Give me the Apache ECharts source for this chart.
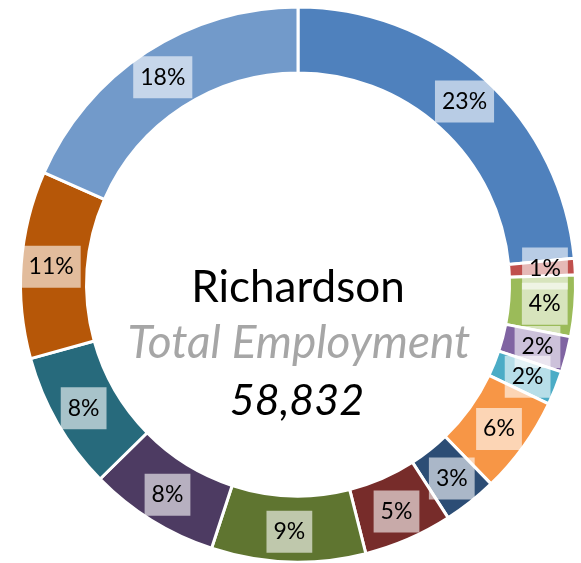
<!DOCTYPE html>
<html lang="en">
<head>
    <meta charset="utf-8">
    <title>Richardson Total Employment</title>
    <style>
        * {
  margin: 0;
  padding: 0;
}
#chart-container {
  position: relative;
  width: 581px;
  height: 563px;
  overflow: hidden;
  background: #fff;
}
    </style>
</head>
<body>
<div id="chart-container"></div>
<script src="https://fastly.jsdelivr.net/npm/echarts@6/dist/echarts.min.js"></script>
<script>
// sectors, clockwise from 12 o'clock
let sectors = ['S1', 'S2', 'S3', 'S4', 'S5', 'S6', 'S7', 'S8', 'S9', 'S10', 'S11', 'S12', 'S13'];
let jobs = [13820, 571, 2094, 1224, 1159, 3347, 1847, 3042, 5277, 4471, 4742, 6413, 10825];
let colors = ['#4F81BD', '#C0504D', '#9BBB59', '#8064A2', '#4BACC6', '#F79646', '#2C4D75',
              '#772C2A', '#5F7530', '#4D3B62', '#276A7C', '#B65708', '#729ACA'];
let cityName = 'Richardson';
let subTitle = 'Total Employment';
let totalJobs = 58832;

let total = jobs.reduce(function (a, b) { return a + b; }, 0);

var dom = document.getElementById('chart-container');
var myChart = echarts.init(dom, null, {
  renderer: 'canvas',
  useDirtyRect: false
});

var option = {
  animation: false,
  color: colors,
  graphic: [
    {
      type: 'text',
      x: 298,
      y: 266,
      style: {
        text: cityName,
        font: '44px Lato',
        fill: '#000',
        textAlign: 'center',
        textVerticalAlign: 'top'
      }
    },
    {
      type: 'text',
      x: 299,
      y: 320,
      style: {
        text: subTitle,
        font: 'italic 46px Lato',
        fill: '#A6A6A6',
        textAlign: 'center',
        textVerticalAlign: 'top'
      }
    },
    {
      type: 'text',
      x: 297,
      y: 380,
      style: {
        text: totalJobs.toLocaleString('en-US'),
        font: 'italic 43px Lato',
        fill: '#000',
        textAlign: 'center',
        textVerticalAlign: 'top'
      }
    }
  ],
  series: [
    {
      type: 'pie',
      center: [298, 284.5],
      radius: [211.5, 277.5],
      startAngle: 90,
      clockwise: true,
      avoidLabelOverlap: false,
      itemStyle: {
        borderColor: '#fff',
        borderWidth: 3
      },
      label: {
        show: true,
        position: 'inside',
        formatter: function (p) {
          return Math.round(p.value / total * 100) + '%';
        },
        fontFamily: 'Lato',
        fontSize: 23,
        lineHeight: 23,
        color: '#000',
        backgroundColor: 'rgba(255,255,255,0.6)',
        padding: [10, 7, 9, 7]
      },
      labelLayout: { hideOverlap: false },
      labelLine: { show: false },
      emphasis: { disabled: true },
      data: sectors.map(function (s, i) {
        return { name: s, value: jobs[i] };
      })
    }
  ]
};

myChart.setOption(option);

window.addEventListener('resize', myChart.resize);
</script>
</body>
</html>
